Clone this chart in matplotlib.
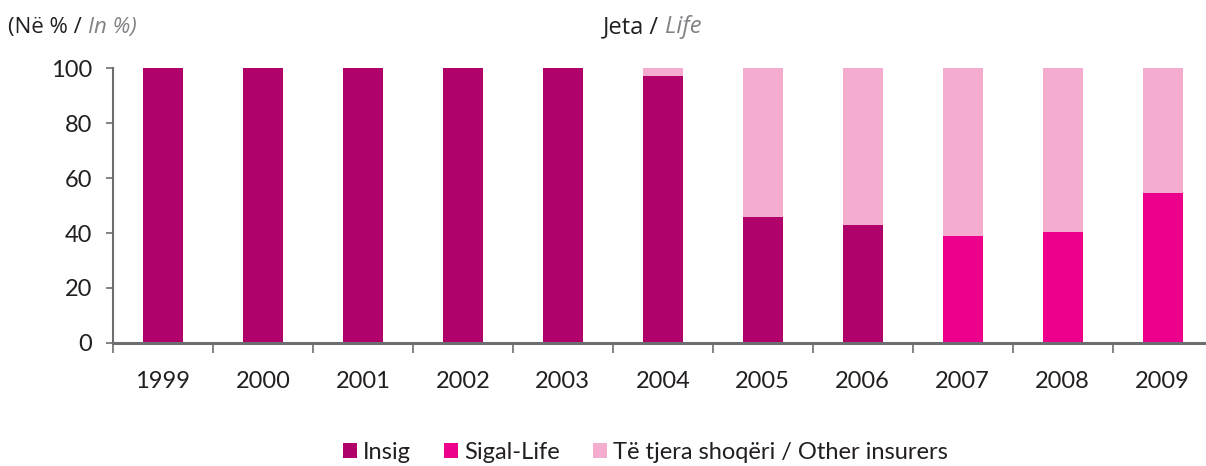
import numpy as np
import matplotlib
matplotlib.use('Agg')
import matplotlib.pyplot as plt
from matplotlib.patches import Patch

# data (shares in %)
years = ['1999', '2000', '2001', '2002', '2003', '2004',
         '2005', '2006', '2007', '2008', '2009']
insig = [100, 100, 100, 100, 100, 97.0, 45.8, 42.8, 0, 0, 0]
sigal = [0, 0, 0, 0, 0, 0, 0, 0, 39.0, 40.5, 54.6]
other = [100 - a - b for a, b in zip(insig, sigal)]

series = ['Insig', 'Sigal-Life', 'Të tjera shoqëri / Other insurers']
colors = ['#B0026A', '#EC008C', '#F4ADCE']
axis_col = '#6D6E71'
text_col = '#231F20'

fig = plt.figure(figsize=(12.06, 4.66), dpi=100)
ax = fig.add_axes([0.0937, 0.264, 0.906, 0.590])

x = np.arange(len(years))
bottom = np.zeros(len(years))
for vals, c in zip([insig, sigal, other], colors):
    ax.bar(x, vals, width=0.4, bottom=bottom, color=c, linewidth=0)
    bottom += np.array(vals)

ax.set_xlim(-0.5, 10.43)
ax.set_ylim(0, 100)
ax.set_yticks(range(0, 101, 20))

# ticks between categories, labels centred under bars
ax.set_xticks(np.arange(-0.5, 10.5, 1.0))
ax.set_xticklabels([])
ax.set_xticks(x, minor=True)
ax.set_xticklabels(years, minor=True)
ax.tick_params(axis='x', which='major', length=7, width=1.2, color=axis_col, direction='out')
ax.tick_params(axis='x', which='minor', length=0, pad=20)
ax.tick_params(axis='y', length=5, width=1.2, color=axis_col, pad=10)

for lab in ax.get_xticklabels(minor=True) + ax.get_yticklabels():
    lab.set_family('Lato')
    lab.set_fontsize(17)
    lab.set_color(text_col)

for s in ['top', 'right']:
    ax.spines[s].set_visible(False)
ax.spines['left'].set_color(axis_col)
ax.spines['left'].set_linewidth(1.5)
ax.spines['bottom'].set_color(axis_col)
ax.spines['bottom'].set_linewidth(2.2)

# header texts, pieces chained one after another
def header(x0, parts, size):
    prev = fig.text(x0, 0.942, parts[0][0], fontsize=size, family='Open Sans',
                    style=parts[0][1], color=parts[0][2], va='center')
    for txt, st, col in parts[1:]:
        prev = ax.annotate(txt, xy=(1, 0), xycoords=prev, va='bottom', ha='left',
                           fontsize=size, family='Open Sans', style=st, color=col)
    return prev

header(0.007, [('(Në % / ', 'normal', text_col), ('In %)', 'italic', '#808285')], 16)
header(0.5, [('Jeta / ', 'normal', text_col), ('Life', 'italic', '#808285')], 17)

handles = [Patch(facecolor=c, edgecolor='none') for c in colors]
fig.legend(handles, series, loc='center', bbox_to_anchor=(0.535, 0.03), ncol=3,
           frameon=False, prop={'family': 'Lato', 'size': 17},
           handlelength=0.6, handleheight=0.6, handletextpad=0.25, columnspacing=1.4,
           labelcolor=text_col)

fig.savefig('out.png', dpi=100)
